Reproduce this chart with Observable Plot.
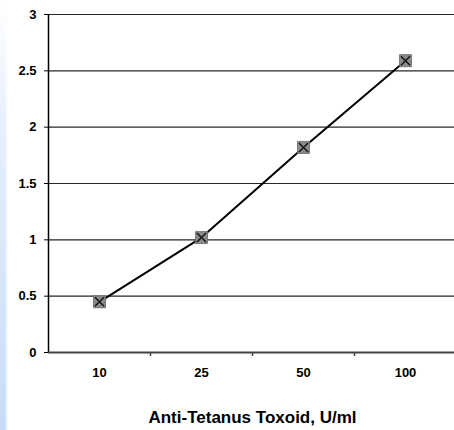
<!DOCTYPE html>
<html>
<head>
<meta charset="utf-8">
<script src="https://cdn.jsdelivr.net/npm/d3@7"></script>
<script src="https://cdn.jsdelivr.net/npm/@observablehq/plot@0.6"></script>
<style>
  html, body { margin: 0; padding: 0; background: #fff; }
  #wrap { position: relative; width: 454px; height: 430px; overflow: hidden; }
  #strip { position: absolute; left: 0; top: 0; width: 8px; height: 430px;
    background: linear-gradient(to bottom, #ffffff 0%, #e6effc 30%, #c6dcf8 100%); }
  #strip2 { position: absolute; left: 0; top: 0; width: 8px; height: 430px;
    background: linear-gradient(to right, rgba(255,255,255,0) 0%, rgba(255,255,255,0) 60%, rgba(255,255,255,1) 100%); }
  #chart { position: absolute; left: 0; top: 0; }
  #chart svg text { font-family: "Liberation Sans", Arial, sans-serif; font-weight: bold; font-size: 13px; fill: #000; }
  #chart svg g[aria-label="x-axis label"] text { font-size: 17px; }
</style>
</head>
<body>
<div id="wrap"><div id="strip"></div><div id="strip2"></div><div id="chart"></div></div>
<script>
const categories = ["10", "25", "50", "100"];
const values = [0.45, 1.02, 1.82, 2.59];
const yTicks = [0, 0.5, 1, 1.5, 2, 2.5, 3];
const xTitle = "Anti-Tetanus Toxoid, U/ml";

const data = categories.map((c, i) => ({i, c, v: values[i]}));

const chart = Plot.plot({
  width: 454,
  height: 430,
  marginTop: 14,
  marginBottom: 78,
  marginLeft: 48,
  marginRight: -2,
  style: {background: "transparent", color: "#000"},
  x: {domain: [-0.5, categories.length - 0.5]},
  y: {domain: [0, 3]},
  marks: [
    Plot.ruleY(yTicks.filter(d => d > 0), {stroke: "#000", strokeWidth: 1.2, strokeOpacity: 0.85}),
    Plot.axisY({ticks: yTicks, tickSize: 4, tickPadding: 8, tickFormat: d => String(d), label: null}),
    Plot.ruleX([-0.5], {stroke: "#000", strokeWidth: 1.5}),
    Plot.axisX({ticks: [0.5, 1.5, 2.5], tickSize: 4, tickFormat: () => "", label: null, stroke: "#444", strokeWidth: 1.5}),
    Plot.axisX({ticks: categories.map((c, i) => i), tickSize: 0, tickPadding: 15, tickFormat: i => categories[i],
      label: xTitle, labelAnchor: "center", labelArrow: "none", labelOffset: 70}),
    Plot.ruleY([0], {stroke: "#444", strokeWidth: 2.2}),
    Plot.line(data, {x: "i", y: "v", stroke: "#000", strokeWidth: 2}),
    Plot.dot(data, {x: "i", y: "v", symbol: "square", r: 6.8, fill: "#8a8a8a", stroke: "#6a6a6a", strokeWidth: 0.8}),
    Plot.dot(data, {x: "i", y: "v", symbol: "times", r: 4.2, stroke: "#111", strokeWidth: 1.4})
  ]
});

document.getElementById("chart").appendChild(chart);
</script>
</body>
</html>
